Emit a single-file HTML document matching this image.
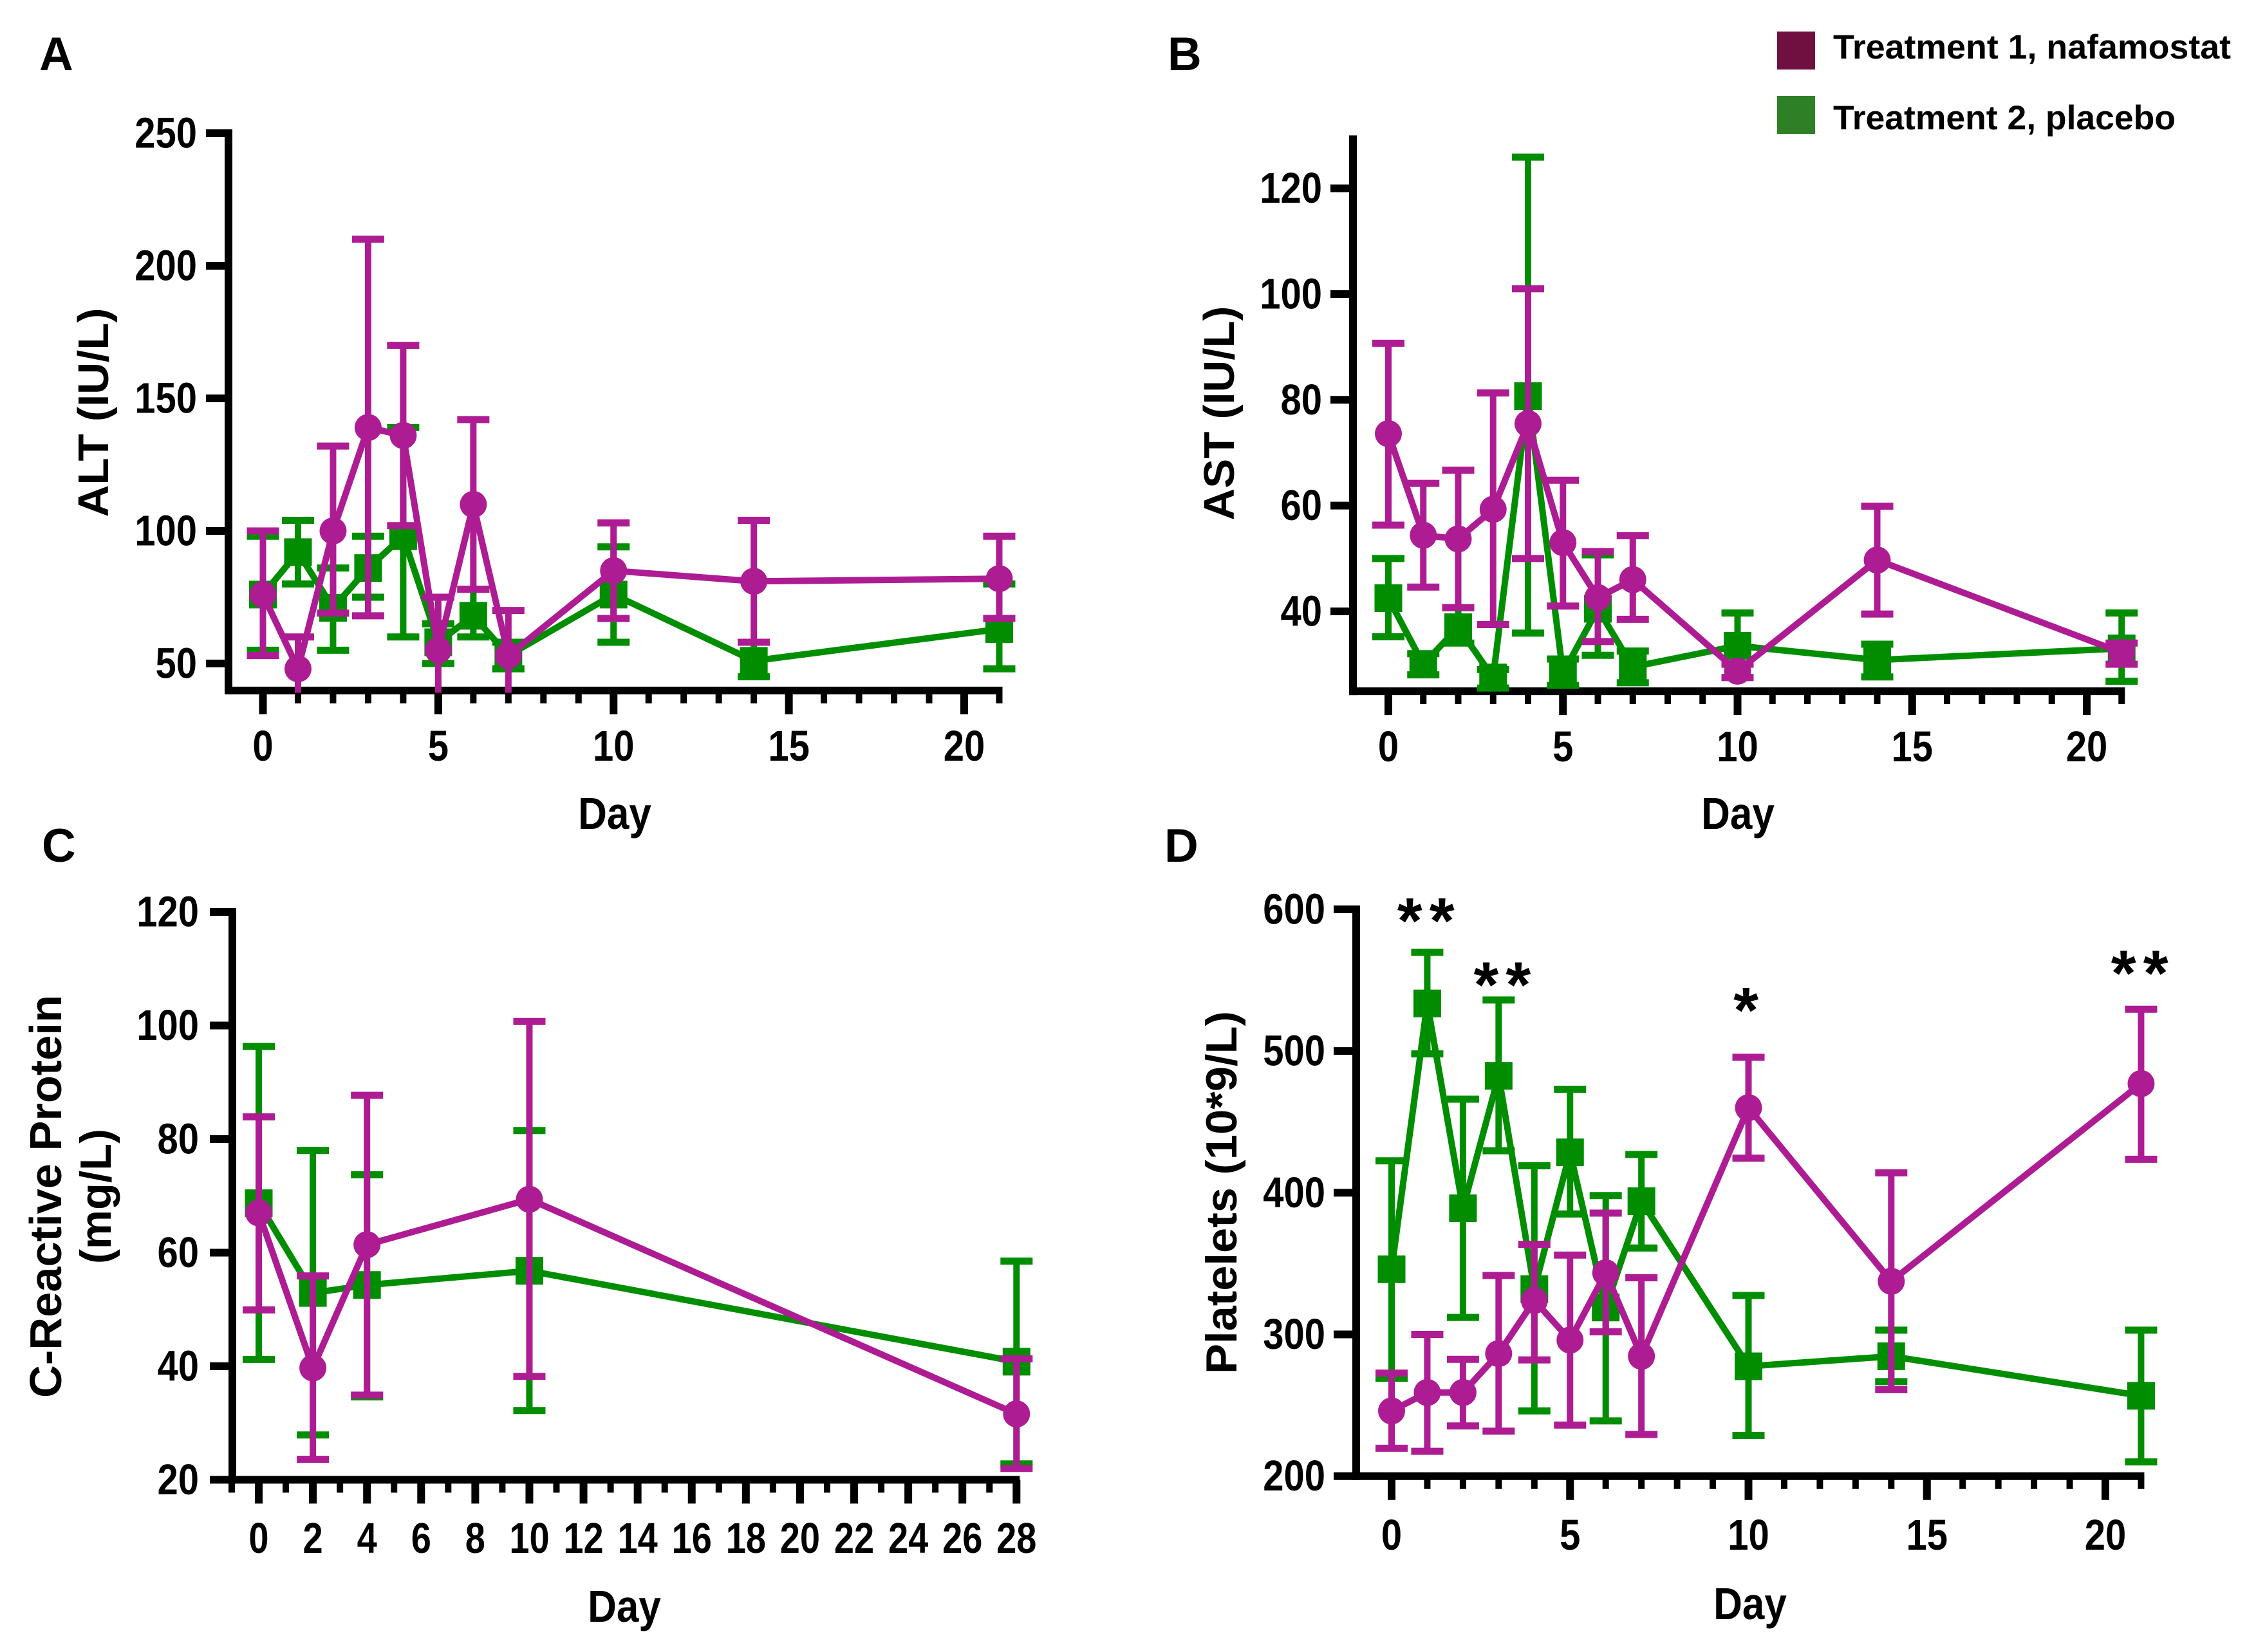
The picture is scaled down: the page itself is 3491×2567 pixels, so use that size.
<!DOCTYPE html>
<html lang="en">
<head>
<meta charset="utf-8">
<title>Clinical markers by day: nafamostat vs placebo</title>
<style>
html,body{margin:0;padding:0;background:#fff;}
svg{display:block;}
text{font-family:"Liberation Sans",Arial,sans-serif;font-weight:bold;fill:#000;}
</style>
</head>
<body>
<svg id="figure" xmlns="http://www.w3.org/2000/svg" width="3491" height="2567" viewBox="0 0 3491 2567">
  <rect x="0" y="0" width="3491" height="2567" fill="#ffffff"/>

  <text x="61" y="109" font-size="73">A</text>
  <text x="1814" y="109" font-size="73">B</text>
  <text x="65" y="1339" font-size="73">C</text>
  <text x="1809" y="1339" font-size="73">D</text>

  <g>
    <rect x="2761" y="49" width="59" height="59" fill="#6f1040"/>
    <text x="2848" y="91" font-size="53" textLength="618" lengthAdjust="spacingAndGlyphs">Treatment 1, nafamostat</text>
    <rect x="2761" y="149" width="59" height="59" fill="#2f7f27"/>
    <text x="2848" y="201" font-size="53" textLength="532" lengthAdjust="spacingAndGlyphs">Treatment 2, placebo</text>
  </g>

  <text transform="translate(168 641) rotate(-90)" text-anchor="middle" font-size="67" textLength="325" lengthAdjust="spacingAndGlyphs">ALT (IU/L)</text>
  <text transform="translate(1917 642) rotate(-90)" text-anchor="middle" font-size="67" textLength="333" lengthAdjust="spacingAndGlyphs">AST (IU/L)</text>
  <text transform="translate(95 1859) rotate(-90)" text-anchor="middle" font-size="70" textLength="626" lengthAdjust="spacingAndGlyphs">C-Reactive Protein</text>
  <text transform="translate(172 1859) rotate(-90)" text-anchor="middle" font-size="68" textLength="210" lengthAdjust="spacingAndGlyphs">(mg/L)</text>
  <text transform="translate(1921 1853) rotate(-90)" text-anchor="middle" font-size="68" textLength="564" lengthAdjust="spacingAndGlyphs">Platelets (10*9/L)</text>

  <text transform="translate(955 1288) scale(1 1.12)" text-anchor="middle" font-size="62">Day</text>
  <text transform="translate(2700 1288) scale(1 1.12)" text-anchor="middle" font-size="62">Day</text>
  <text transform="translate(970 2520) scale(1 1.12)" text-anchor="middle" font-size="62">Day</text>
  <text transform="translate(2719 2516) scale(1 1.12)" text-anchor="middle" font-size="62">Day</text>

  <g id="panel-a"></g>
  <g id="panel-b"></g>
  <g id="panel-c"></g>
  <g id="panel-d"></g>
</svg>

<script>
/* ---------- Panel A: ALT ---------- */
const aDays = [0,1,2,3,4,5,6,7,10,14,21];
const aDrugMean = [76,48,100,139,136,55,110,53,85,81,82];
const aDrugHi = [100,60,132,210,170,75,142,70,103,104,98];
const aDrugLo = [53,39,69,68,102,39,78,39,67,58,67];
const aPlaceboMean = [76,92,71,86,98,58,68,53,76,51,63];
const aPlaceboHi = [98,104,86,98,139,65,78,58,94,58,80];
const aPlaceboLo = [55,80,55,75,60,50,60,48,58,45,48];
const aYTicks = [50,100,150,200,250];
const aXTicks = [0,5,10,15,20];

/* ---------- Panel B: AST ---------- */
const bDays = [0,1,2,3,4,5,6,7,10,14,21];
const bDrugMean = [73.6,54.4,53.7,59.3,75.5,53,42.6,46,28.7,49.7,32.2];
const bDrugHi = [90.7,64.2,66.7,81.3,101,64.8,51.3,54.3,30,59.9,34];
const bDrugLo = [56.3,44.6,40.7,37.5,50,41,34.3,38.5,27.5,39.5,30];
const bPlaceboMean = [42.5,30,37,27.5,80.7,28.3,40.5,29.5,33.5,30.8,33];
const bPlaceboHi = [50,32,40.7,29,125.9,31,50.7,32.5,39.7,33.8,39.7];
const bPlaceboLo = [35.2,28,34,25.5,35.9,26,31.7,26.5,27.5,27.6,26.8];
const bYTicks = [40,60,80,100,120];
const bXTicks = [0,5,10,15,20];

/* ---------- Panel C: C-reactive protein ---------- */
const cDays = [0,2,4,10,28];
const cDrugMean = [67,39.7,61.4,69.4,31.6];
const cDrugHi = [83.9,55.9,87.7,100.7,41.3];
const cDrugLo = [49.9,23.6,34.9,38.2,22];
const cPlaceboMean = [68.7,52.9,54.3,56.8,40.8];
const cPlaceboHi = [96.3,78,73.7,81.5,58.5];
const cPlaceboLo = [41.2,27.9,34.6,32.2,22.8];
const cYTicks = [20,40,60,80,100,120];
const cXTicks = [0,2,4,6,8,10,12,14,16,18,20,22,24,26,28];

/* ---------- Panel D: Platelets ---------- */
const dDays = [0,1,2,3,4,5,6,7,10,14,21];
const dDrugMean = [246,259,259,286.5,324,296,343.5,284.6,460,337.5,477];
const dDrugHi = [272.7,300,282.4,341.6,363.6,356,385.6,340,495.6,414,529.5];
const dDrugLo = [219.7,217.5,235.4,231.7,282,236,301.8,229.4,424.4,261,423.6];
const dPlaceboMean = [346,533.6,389,482.5,332,428.5,319,394,277.5,284.6,256.7];
const dPlaceboHi = [422.5,569.7,466,536,419,473,398,427,327.5,303,303];
const dPlaceboLo = [269,498,312,429.6,246,385,239,361,228.7,266.7,210];
const dYTicks = [200,300,400,500,600];
const dXTicks = [0,5,10,15,20];
const dStarDays = [0.96,3.1,9.93,20.96];
const dStarLevels = [599,554,536,562];
const dStarLabels = ['**','**','*','**'];

const DRUG_COLOR = '#ae1c93';
const PLACEBO_COLOR = '#008e00';
const NS = 'http://www.w3.org/2000/svg';

function make(tag, geometry, parent){
  const node = document.createElementNS(NS, tag);
  for (const k in geometry) node.setAttribute(k, geometry[k]);
  parent.appendChild(node);
  return node;
}

function drawSeries(g, key, color, marker, days, mean, hi, lo, sx, sy, axisMin){
  const pts = days.map((d,i) => sx(d) + ',' + sy(mean[i])).join(' ');
  const path = make('polyline', {points: pts, fill:'none', stroke: color, 'stroke-width': 10, 'stroke-linejoin':'round'}, g);
  
  

  days.forEach((d,i) => {
    const x = sx(d);
    const stem = make('line', {x1:x, x2:x, y1:sy(hi[i]), y2:sy(lo[i]), stroke:color, 'stroke-width':10}, g);
    
    

    const capHi = make('line', {x1:x-25, x2:x+25, y1:sy(hi[i]), y2:sy(hi[i]), stroke:color, 'stroke-width':11}, g);
    
    

    if (lo[i] >= axisMin) {
      const capLo = make('line', {x1:x-25, x2:x+25, y1:sy(lo[i]), y2:sy(lo[i]), stroke:color, 'stroke-width':11}, g);
      
      
    }
  });

  days.forEach((d,i) => {
    const x = sx(d), y = sy(mean[i]);
    let m;
    if (marker === 'circle') {
      m = make('circle', {cx:x, cy:y, r:21, fill:color}, g);
    } else {
      m = make('rect', {x:x-21.5, y:y-21.5, width:43, height:43, fill:color}, g);
    }
    
    
  });
}

function drawPanel(cfg){
  const g = document.getElementById(cfg.id);
  const sx = v => cfg.x0 + (v - cfg.xV0) * (cfg.x1 - cfg.x0) / (cfg.xV1 - cfg.xV0);
  const sy = v => cfg.y0 + (v - cfg.yV0) * (cfg.y1 - cfg.y0) / (cfg.yV1 - cfg.yV0);
  const AW = 12;
  const axisY = sy(cfg.yMin), axisX = cfg.axisX;

  const yAxis = make('line', {x1:axisX, x2:axisX, y1:sy(cfg.yMax) - AW/2 * (cfg.yMaxTick ? 1 : 0), y2:axisY + AW/2, stroke:'#000', 'stroke-width':AW}, g);
  
  

  const xAxis = make('line', {x1:axisX - AW/2, x2:sx(cfg.xMax) + 5, y1:axisY, y2:axisY, stroke:'#000', 'stroke-width':AW}, g);
  
  

  cfg.yTicks.forEach(v => {
    const y = sy(v);
    const t = make('line', {x1:axisX - 35, x2:axisX, y1:y, y2:y, stroke:'#000', 'stroke-width':AW}, g);
    
    

    const lab = make('text', {transform:'translate(' + cfg.yLabelRight + ' ' + (y + 22.5) + ') scale(1 1.157)', 'text-anchor':'end', 'font-size':58}, g);
    lab.textContent = v;
    
    
  });

  for (let d = cfg.xTickStart; d <= cfg.xMax; d++) {
    const isMajor = cfg.xTicks.indexOf(d) >= 0;
    const x = sx(d);
    const t = make('line', {x1:x, x2:x, y1:axisY, y2:axisY + (isMajor ? 37 : 20), stroke:'#000', 'stroke-width':(isMajor ? 12 : 10)}, g);
    
    
  }

  cfg.xTicks.forEach(v => {
    const lab = make('text', {transform:'translate(' + sx(v) + ' ' + cfg.xLabelBase + ') scale(1 ' + cfg.xLabelStretch + ')', 'text-anchor':'middle', 'font-size':cfg.xLabelSize}, g);
    lab.textContent = v;
    
    
  });

  drawSeries(g, 'placebo', PLACEBO_COLOR, 'square', cfg.days, cfg.placeboMean, cfg.placeboHi, cfg.placeboLo, sx, sy, cfg.yMin);
  drawSeries(g, 'nafamostat', DRUG_COLOR, 'circle', cfg.days, cfg.drugMean, cfg.drugHi, cfg.drugLo, sx, sy, cfg.yMin);

  return {g, sx, sy};
}

drawPanel({
  id:'panel-a', days:aDays, drugMean:aDrugMean, drugHi:aDrugHi, drugLo:aDrugLo,
  placeboMean:aPlaceboMean, placeboHi:aPlaceboHi, placeboLo:aPlaceboLo, yTicks:aYTicks, xTicks:aXTicks,
  x0:408.5, xV0:0, x1:1498, xV1:20, y0:1031, yV0:50, y1:207, yV1:250,
  yMin:39.8, yMax:250, yMaxTick:true, xMax:21, xTickStart:0, axisX:355,
  yLabelRight:306, xLabelBase:1182, xLabelSize:58, xLabelStretch:1.157
});

drawPanel({
  id:'panel-b', days:bDays, drugMean:bDrugMean, drugHi:bDrugHi, drugLo:bDrugLo,
  placeboMean:bPlaceboMean, placeboHi:bPlaceboHi, placeboLo:bPlaceboLo, yTicks:bYTicks, xTicks:bXTicks,
  x0:2157, xV0:0, x1:3242, xV1:20, y0:950, yV0:40, y1:292.6, yV1:120,
  yMin:24.9, yMax:130, yMaxTick:false, xMax:21, xTickStart:0, axisX:2102,
  yLabelRight:2054, xLabelBase:1183, xLabelSize:58, xLabelStretch:1.157
});

drawPanel({
  id:'panel-c', days:cDays, drugMean:cDrugMean, drugHi:cDrugHi, drugLo:cDrugLo,
  placeboMean:cPlaceboMean, placeboHi:cPlaceboHi, placeboLo:cPlaceboLo, yTicks:cYTicks, xTicks:cXTicks,
  x0:402, xV0:0, x1:1579.3, xV1:28, y0:2299.4, yV0:20, y1:1417, yV1:120,
  yMin:20, yMax:120, yMaxTick:true, xMax:28, xTickStart:-1, axisX:361,
  yLabelRight:309, xLabelBase:2413, xLabelSize:56, xLabelStretch:1.2
});

const panelD = drawPanel({
  id:'panel-d', days:dDays, drugMean:dDrugMean, drugHi:dDrugHi, drugLo:dDrugLo,
  placeboMean:dPlaceboMean, placeboHi:dPlaceboHi, placeboLo:dPlaceboLo, yTicks:dYTicks, xTicks:dXTicks,
  x0:2162, xV0:0, x1:3271, xV1:20, y0:2293.7, yV0:200, y1:1413, yV1:600,
  yMin:200, yMax:600, yMaxTick:true, xMax:21, xTickStart:0, axisX:2107,
  yLabelRight:2059, xLabelBase:2408, xLabelSize:58, xLabelStretch:1.157
});

dStarDays.forEach((d,i) => {
  const star = make('text', {x:panelD.sx(d) + 5.5, y:panelD.sy(dStarLevels[i]) + 50, 'text-anchor':'middle', 'font-size':100, 'letter-spacing':11}, panelD.g);
  star.textContent = dStarLabels[i];
  
  
});
</script>
</body>
</html>
